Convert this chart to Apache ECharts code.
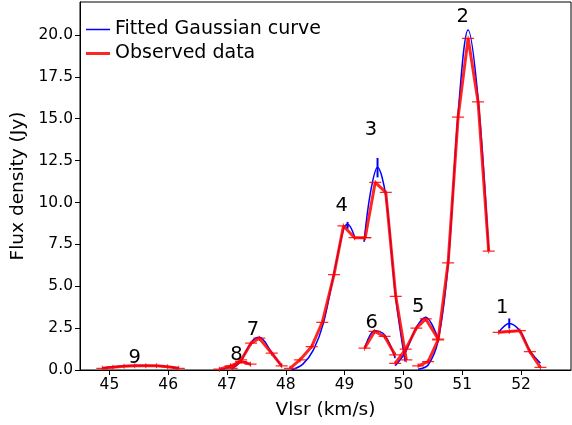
<!DOCTYPE html>
<html><head><meta charset="utf-8">
<script src="https://cdn.jsdelivr.net/npm/echarts@6/dist/echarts.min.js"></script>
<style>html,body{margin:0;padding:0;background:#fff}#c{width:572px;height:425px}</style>
</head><body><div id="c"></div>
<script>
// ---- data (velocity km/s, flux Jy) ----
const vel9 = [44.88, 45.06, 45.25, 45.43, 45.62, 45.80, 45.99, 46.18];
const obs9 = [0.10, 0.17, 0.22, 0.25, 0.26, 0.25, 0.20, 0.10];
const fit9 = [0.12, 0.19, 0.24, 0.27, 0.27, 0.25, 0.20, 0.12];

const vel8 = [46.87, 47.06, 47.24, 47.40];
const obs8 = [0.05, 0.25, 0.50, 0.35];
const fit8 = [0.00, 0.20, 0.50, 0.30];

const vel7 = [47.08, 47.24, 47.41, 47.55, 47.76, 47.93];
const obs7 = [0.10, 0.60, 1.60, 1.90, 1.00, 0.25];
const fit7 = [0.05, 0.55, 1.65, 1.95, 1.05, 0.20];

const vel4 = [48.07, 48.24, 48.44, 48.62, 48.82, 48.98, 49.17, 49.35];
const obs4 = [0.10, 0.60, 1.40, 2.85, 5.70, 8.60, 7.90, 7.90];
const fit4v = [48.10, 48.29, 48.47, 48.64, 48.82, 48.99, 49.05, 49.17];
const fit4 = [0.00, 0.35, 1.20, 2.80, 5.80, 8.50, 8.70, 7.95];

const vel3 = [49.35, 49.52, 49.70, 49.87, 50.05];
const obs3 = [7.90, 11.20, 10.60, 4.40, 0.60];
const fit3v = [49.33, 49.44, 49.56, 49.70, 49.87, 50.03];
const fit3 = [7.65, 10.60, 12.10, 10.40, 4.30, 0.50];

const vel6 = [49.34, 49.51, 49.68, 49.86];
const obs6 = [1.30, 2.30, 2.00, 0.90];
const fit6 = [1.30, 2.35, 2.10, 0.70];

const vel5 = [49.86, 50.04, 50.22, 50.38, 50.59];
const obs5 = [0.40, 1.25, 2.50, 3.05, 1.85];
const fit5 = [0.25, 1.10, 2.55, 3.15, 1.85];

const vel2 = [50.25, 50.42, 50.59, 50.76, 50.93, 51.10, 51.27, 51.45];
const obs2 = [0.25, 0.50, 1.80, 6.40, 15.10, 19.80, 16.00, 7.10];
const fit2 = [0.05, 0.30, 1.75, 6.30, 15.30, 20.30, 16.20, 7.10];

const vel1 = [51.62, 51.80, 51.98, 52.15, 52.33];
const obs1 = [2.25, 2.30, 2.35, 1.10, 0.15];
const fit1 = [2.25, 2.78, 2.34, 1.15, 0.40];

// fitted peak markers (velocity, flux, half-extent)
const peakVel = [49.56, 49.05, 51.80];
const peakFlux = [12.08, 8.64, 2.78];
const peakErr = [0.58, 0.20, 0.30];

// component labels
const labelText = ['1', '2', '3', '4', '5', '6', '7', '8', '9'];
const labelVel = [51.68, 51.01, 49.45, 48.95, 50.25, 49.46, 47.44, 47.16, 45.43];
const labelFlux = [3.70, 21.10, 14.36, 9.77, 3.75, 2.80, 2.38, 0.90, 0.72];

const xTicks = [45, 46, 47, 48, 49, 50, 51, 52];
const yTicks = [0, 2.5, 5, 7.5, 10, 12.5, 15, 17.5, 20];

const FIT = 'Fitted Gaussian curve';
const OBS = 'Observed data';

const segments = [
  [vel9, obs9, vel9, fit9],
  [vel8, obs8, vel8, fit8],
  [vel7, obs7, vel7, fit7],
  [vel4, obs4, fit4v, fit4],
  [vel3, obs3, fit3v, fit3],
  [vel6, obs6, vel6, fit6],
  [vel5, obs5, vel5, fit5],
  [vel2, obs2, vel2, fit2],
  [vel1, obs1, vel1, fit1]
];

const zip = (a, b) => a.map((v, i) => [v, b[i]]);
const FONT = 'DejaVu Sans';
const markerPath = 'path://M0 2.5 H12 V3.5 H0 Z M5.5 1 H6.5 V5 H5.5 Z';

const series = [];
segments.forEach(s => {
  series.push({
    type: 'line', name: FIT, data: zip(s[2], s[3]), smooth: 0.35,
    symbol: 'none', color: 'blue',
    lineStyle: { color: 'blue', width: 1.5 }, z: 2, silent: true
  });
});
segments.forEach(s => {
  series.push({
    type: 'line', name: OBS, data: zip(s[0], s[1]),
    symbol: markerPath, symbolSize: [12, 5], showAllSymbol: true,
    color: 'red', itemStyle: { color: 'red', opacity: 0.85 },
    lineStyle: { color: 'red', width: 3, opacity: 0.85 }, z: 3, silent: true
  });
});
peakVel.forEach((v, i) => {
  series.push({
    type: 'line', data: [[v, peakFlux[i] - peakErr[i]], [v, peakFlux[i] + peakErr[i]]],
    symbol: 'none', lineStyle: { color: 'blue', width: 2 }, z: 4, silent: true
  });
});
series.push({
  type: 'scatter', symbolSize: 1, itemStyle: { color: 'rgba(0,0,0,0)' }, silent: true, z: 5,
  data: labelText.map((t, i) => ({ name: t, value: [labelVel[i], labelFlux[i]] })),
  label: { show: true, position: 'inside', formatter: p => p.name, opacity: 1,
    fontFamily: FONT, fontSize: 19.5, color: '#000', textBorderWidth: 0 }
});

const chart = echarts.init(document.getElementById('c'), null, { renderer: 'canvas' });
chart.setOption({
  animation: false,
  backgroundColor: '#fff',
  grid: { left: 80, right: 1, top: 2, bottom: 55, show: true, borderColor: '#000', borderWidth: 1 },
  legend: [
    { data: [FIT], left: 86, top: 20, itemWidth: 24, itemHeight: 1.5, icon: 'rect', padding: 0,
      itemStyle: { color: 'blue' },
      textStyle: { fontFamily: FONT, fontSize: 19, color: '#000' } },
    { data: [OBS], left: 86, top: 44, itemWidth: 24, itemHeight: 3, icon: 'rect', padding: 0,
      itemStyle: { color: 'red' },
      textStyle: { fontFamily: FONT, fontSize: 19, color: '#000' } }
  ],
  xAxis: {
    type: 'value', min: 44.5, max: 52.85,
    name: 'Vlsr (km/s)', nameLocation: 'middle', nameGap: 31,
    nameTextStyle: { fontFamily: FONT, fontSize: 18.5, color: '#000' },
    axisLine: { lineStyle: { color: '#000', width: 1 } },
    axisTick: { show: true, length: 5, customValues: xTicks, lineStyle: { color: '#000' } },
    axisLabel: { customValues: xTicks, fontFamily: FONT, fontSize: 15.5, color: '#000', margin: 7,
      formatter: v => String(v) },
    splitLine: { show: false }
  },
  yAxis: {
    type: 'value', min: 0, max: 21.97,
    name: 'Flux density (Jy)', nameLocation: 'middle', nameGap: 52,
    nameTextStyle: { fontFamily: FONT, fontSize: 18.5, color: '#000' },
    axisLine: { show: true, lineStyle: { color: '#000', width: 1 } },
    axisTick: { show: true, length: 5, customValues: yTicks, lineStyle: { color: '#000' } },
    axisLabel: { customValues: yTicks, fontFamily: FONT, fontSize: 15.5, color: '#000', margin: 7,
      formatter: v => v.toFixed(1) },
    splitLine: { show: false }
  },
  series: series
});
</script></body></html>
